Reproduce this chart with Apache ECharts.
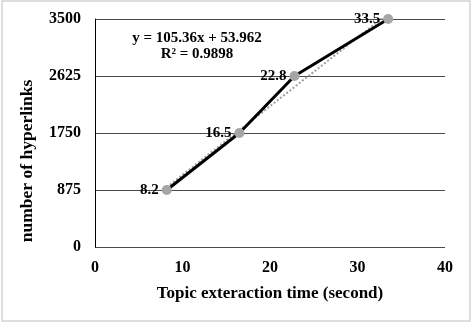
<!DOCTYPE html>
<html><head><meta charset="utf-8">
<script src="https://cdn.jsdelivr.net/npm/echarts@6/dist/echarts.min.js"></script>
<style>html,body{margin:0;padding:0;background:#fff}#c{width:472px;height:323px}</style>
</head><body><div id="c"></div>
<script>
const xValues = [8.2, 16.5, 22.8, 33.5];
const yValues = [875, 1750, 2625, 3500];
const yTicks = [0, 875, 1750, 2625, 3500];
const xTicks = [0, 10, 20, 30, 40];
const trendSlope = 105.36;
const trendIntercept = 53.962;
const equationText = 'y = 105.36x + 53.962';
const r2Text = 'R² = 0.9898';
const xName = 'Topic exteraction time (second)';
const yName = 'number of hyperlinks';

const pts = xValues.map((x, i) => [x, yValues[i]]);
const tx0 = xValues[0], tx1 = xValues[xValues.length - 1];
const trend = [[tx0, trendSlope * tx0 + trendIntercept], [tx1, trendSlope * tx1 + trendIntercept]];
const font = '"Liberation Serif", "Times New Roman", serif';

const chart = echarts.init(document.getElementById('c'), null, {renderer: 'canvas'});
chart.setOption({
  animation: false,
  backgroundColor: '#fff',
  grid: {left: 95, right: 27, top: 19, bottom: 76},
  xAxis: {
    type: 'value', min: xTicks[0], max: xTicks[xTicks.length - 1], interval: 10,
    name: xName, nameLocation: 'middle', nameGap: 38,
    nameTextStyle: {fontFamily: font, fontWeight: 'bold', fontSize: 17, color: '#000'},
    axisLine: {show: false}, axisTick: {show: false}, splitLine: {show: false},
    axisLabel: {fontFamily: font, fontWeight: 'bold', fontSize: 16, color: '#000', margin: 13}
  },
  yAxis: {
    type: 'value', min: yTicks[0], max: yTicks[yTicks.length - 1], interval: 875,
    axisLine: {show: true, lineStyle: {color: '#000', width: 1}}, axisTick: {show: false},
    splitLine: {show: true, lineStyle: {color: '#4a4a4a', width: 1}},
    axisLabel: {fontFamily: font, fontWeight: 'bold', fontSize: 16, color: '#000', margin: 14,
      formatter: v => String(v)}
  },
  series: [
    {
      type: 'line', data: trend, symbol: 'none', clip: true, z: 3,
      lineStyle: {color: '#a0a0a0', width: 2, type: [2, 2]}
    },
    {
      type: 'line', data: pts, symbol: 'circle', symbolSize: 10, z: 4,
      lineStyle: {color: '#000', width: 3},
      itemStyle: {color: '#a6a6a6', borderWidth: 0},
      label: {show: true, position: 'left', distance: 3,
        formatter: p => p.value[0].toFixed(1),
        fontFamily: font, fontWeight: 'bold', fontSize: 15, color: '#000'}
    }
  ],
  graphic: [
    {type: 'rect', shape: {x: 2, y: 1, width: 468, height: 320},
     style: {fill: 'none', stroke: '#d4d4d4', lineWidth: 1.5}, silent: true},
    {type: 'text', x: 27, y: 161, rotation: Math.PI / 2,
     style: {text: yName, font: 'bold 17.5px ' + font, fill: '#000', textAlign: 'center', textVerticalAlign: 'middle'}},
    {type: 'text', x: 197, y: 38, style: {text: equationText, font: 'bold 15px ' + font, fill: '#000', textAlign: 'center', textVerticalAlign: 'middle'}},
    {type: 'text', x: 197, y: 54, style: {text: r2Text, font: 'bold 15px ' + font, fill: '#000', textAlign: 'center', textVerticalAlign: 'middle'}}
  ]
});
</script></body></html>
